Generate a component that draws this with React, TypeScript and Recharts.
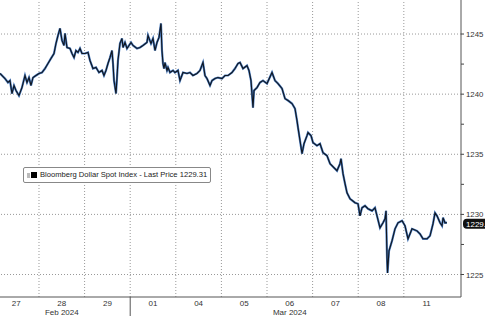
import {
  Line,
  LineChart,
  ReferenceLine,
  XAxis,
  YAxis,
} from "recharts";

// trading days shown on the x axis (one unit per day)
const days = ["27", "28", "29", "01", "04", "05", "06", "07", "08", "11"];
const months = [
  { day: 1, label: "Feb 2024" },
  { day: 6, label: "Mar 2024" },
];
const monthBreak = 3;

const yTicks = [1225, 1227.5, 1230, 1232.5, 1235, 1237.5, 1240, 1242.5, 1245];
const yGrid = [1225, 1230, 1235, 1240, 1245];
const lastPrice = 1229.31;

// position in days since the 27th, and index level
const times = [
  0.145, 0.254, 0.32, 0.364, 0.408, 0.452, 0.496, 0.561, 0.627, 0.693, 0.737,
  0.781, 0.825, 0.868, 0.934, 1.0, 1.066, 1.132, 1.197, 1.263, 1.329, 1.373,
  1.417, 1.461, 1.504, 1.548, 1.57, 1.614, 1.68, 1.724, 1.768, 1.811, 1.855,
  1.899, 1.943, 2.009, 2.075, 2.118, 2.184, 2.25, 2.316, 2.382, 2.425, 2.469,
  2.513, 2.557, 2.601, 2.623, 2.645, 2.689, 2.711, 2.732, 2.776, 2.82, 2.842,
  2.886, 2.93, 3.018, 3.061, 3.149, 3.215, 3.281, 3.368, 3.39, 3.456, 3.5,
  3.544, 3.588, 3.632, 3.675, 3.697, 3.719, 3.741, 3.763, 3.807, 3.829, 3.873,
  3.939, 3.982, 4.048, 4.092, 4.158, 4.246, 4.311, 4.377, 4.465, 4.531, 4.596,
  4.64, 4.684, 4.75, 4.794, 4.86, 4.925, 5.013, 5.079, 5.145, 5.232, 5.298,
  5.364, 5.408, 5.474, 5.561, 5.605, 5.649, 5.693, 5.715, 5.781, 5.846, 5.912,
  6.0, 6.11, 6.175, 6.241, 6.329, 6.395, 6.461, 6.548, 6.614, 6.658, 6.68,
  6.724, 6.768, 6.811, 6.877, 6.899, 6.965, 7.009, 7.096, 7.162, 7.228, 7.316,
  7.382, 7.535, 7.601, 7.623, 7.667, 7.711, 7.754, 7.82, 7.93, 7.996, 8.039,
  8.083, 8.149, 8.215, 8.303, 8.368, 8.412, 8.478, 8.544, 8.588, 8.61, 8.632,
  8.643, 8.675, 8.741, 8.807, 8.873, 8.961, 9.026, 9.092, 9.18, 9.289, 9.355,
  9.421, 9.509, 9.575, 9.64, 9.684, 9.728, 9.794, 9.838, 9.86, 9.904, 9.947,
];
const prices = [
  1241.72, 1241.3, 1240.97, 1241.13, 1240.05, 1240.72, 1240.3, 1239.88,
  1240.55, 1241.55, 1240.97, 1241.38, 1240.72, 1241.38, 1241.55, 1241.72,
  1241.8, 1242.13, 1242.55, 1242.97, 1243.38, 1244.22, 1244.88, 1245.47,
  1244.47, 1244.05, 1245.05, 1243.88, 1243.8, 1243.38, 1243.05, 1243.63,
  1243.47, 1243.8, 1243.38, 1243.38, 1243.47, 1242.8, 1242.13, 1242.22,
  1241.8, 1241.97, 1241.55, 1241.97, 1242.55, 1243.05, 1243.63, 1242.55,
  1241.13, 1240.05, 1241.38, 1242.8, 1244.22, 1244.63, 1243.88, 1244.3,
  1243.8, 1244.3, 1244.05, 1243.8, 1243.88, 1244.05, 1244.3, 1244.88,
  1244.22, 1244.63, 1243.63, 1244.3, 1244.72, 1245.88, 1243.63, 1242.55,
  1242.13, 1242.63, 1241.97, 1242.22, 1241.8, 1241.97, 1241.8, 1241.97,
  1241.13, 1241.8, 1241.72, 1241.8, 1241.55, 1241.72, 1241.97, 1242.63,
  1241.55, 1241.3, 1240.72, 1241.13, 1241.3, 1241.38, 1241.3, 1241.55,
  1241.55, 1241.8, 1242.13, 1242.55, 1242.63, 1242.13, 1242.38, 1241.97,
  1241.13, 1238.88, 1240.3, 1240.55, 1240.97, 1241.13, 1240.88, 1241.8,
  1241.13, 1240.88, 1240.47, 1239.63, 1239.47, 1239.22, 1238.8, 1237.8,
  1237.22, 1236.13, 1235.05, 1235.88, 1236.55, 1236.8, 1236.55, 1235.97,
  1235.72, 1235.88, 1235.13, 1234.88, 1234.22, 1233.63, 1234.22, 1234.63,
  1233.38, 1232.55, 1231.8, 1231.3, 1230.97, 1230.88, 1229.88, 1230.55,
  1230.72, 1230.47, 1230.3, 1230.55, 1229.88, 1228.88, 1229.3, 1229.63,
  1230.3, 1226.38, 1225.13, 1226.97, 1227.8, 1228.8, 1229.3, 1229.47,
  1229.05, 1227.97, 1228.8, 1228.63, 1228.38, 1227.97, 1227.97, 1228.22,
  1229.22, 1230.13, 1229.88, 1229.3, 1229.05, 1229.72, 1229.3, 1229.31,
];

const data = times.map((t, i) => ({ t, price: prices[i] }));

const dayCenters = days.map((_, i) => i + 0.5);
const dayEdges = days.slice(1).map((_, i) => i + 1);
const xTicks = [...dayCenters, monthBreak];

const font = "'Liberation Sans', Arial, sans-serif";

function DayTick(props: any) {
  const { x, y, payload } = props;
  const v = payload.value;
  if (v === monthBreak) {
    return <line x1={x} x2={x} y1={y} y2={y + 22} stroke="#555" strokeWidth={1} />;
  }
  const idx = Math.floor(v);
  const month = months.find((m) => m.day === idx);
  return (
    <g>
      <text x={x} y={y + 9} textAnchor="middle" fontSize={8} fill="#333" fontFamily={font}>
        {days[idx]}
      </text>
      {month && (
        <text x={x} y={y + 18} textAnchor="middle" fontSize={8} fill="#333" fontFamily={font}>
          {month.label}
        </text>
      )}
    </g>
  );
}

function PriceTick(props: any) {
  const { x, y, payload } = props;
  const major = Math.abs(payload.value % 5) < 0.01;
  return (
    <g>
      <line x1={x} x2={x + 3} y1={y} y2={y} stroke="#444" />
      {major && (
        <text x={x + 5} y={y + 3} fontSize={7.8} fill="#333" fontFamily={font}>
          {payload.value}
        </text>
      )}
    </g>
  );
}

function LastLabel(props: any) {
  const { viewBox } = props;
  const x = viewBox.x + viewBox.width + 2;
  const y = viewBox.y + 1;
  return (
    <g>
      <rect x={x} y={y - 5} width={30} height={10} rx={4} fill="#111" />
      <text x={x + 3} y={y + 3} fontSize={8} fill="#fff" fontFamily={font}>
        {lastPrice.toFixed(2)}
      </text>
    </g>
  );
}

function LegendBox() {
  return (
    <div
      style={{
        position: "absolute",
        left: 23,
        top: 167,
        border: "1px solid #888",
        borderRadius: 2,
        background: "#fff",
        padding: "2px 3px",
        fontFamily: font,
        fontSize: 7.6,
        color: "#222",
        display: "flex",
        alignItems: "center",
        whiteSpace: "nowrap",
        lineHeight: "10px",
      }}
    >
      <span style={{ width: 3, height: 5, background: "#bbb", marginRight: 1 }} />
      <span style={{ width: 6, height: 6, background: "#000", marginRight: 3 }} />
      Bloomberg Dollar Spot Index - Last Price {lastPrice.toFixed(2)}
    </div>
  );
}

export default function App() {
  return (
    <div style={{ position: "absolute", left: 0, top: 0, width: 485, height: 316, background: "#fff" }}>
      <LineChart
        width={485}
        height={316}
        data={data}
        margin={{ top: 0, right: 0, left: 0, bottom: 0 }}
      >
        <XAxis
          dataKey="t"
          type="number"
          domain={[0.145, 10.254]}
          ticks={xTicks}
          tick={<DayTick />}
          tickLine={false}
          tickSize={0}
          tickMargin={0}
          axisLine={{ stroke: "#555" }}
          height={19}
          interval={0}
          allowDataOverflow
        />
        <YAxis
          orientation="right"
          domain={[1223.13, 1247.83]}
          ticks={yTicks}
          tick={<PriceTick />}
          tickLine={false}
          tickSize={0}
          tickMargin={0}
          axisLine={{ stroke: "#555" }}
          width={24}
          interval={0}
          allowDataOverflow
        />
        {dayEdges.map((d) => (
          <ReferenceLine key={"x" + d} x={d} stroke="#999" strokeWidth={1} strokeDasharray="1 2" ifOverflow="visible" />
        ))}
        {yGrid.map((v) => (
          <ReferenceLine key={"y" + v} y={v} stroke="#999" strokeWidth={1} strokeDasharray="1 2" ifOverflow="visible" />
        ))}
        <ReferenceLine y={lastPrice} stroke="none" label={<LastLabel />} ifOverflow="visible" />
        <Line
          type="linear"
          dataKey="price"
          stroke="#4a7cc0"
          strokeWidth={2.2}
          dot={false}
          activeDot={false}
          isAnimationActive={false}
        />
        <Line
          type="linear"
          dataKey="price"
          stroke="#10161f"
          strokeWidth={1.1}
          dot={false}
          activeDot={false}
          isAnimationActive={false}
        />
      </LineChart>
      <LegendBox />
    </div>
  );
}
